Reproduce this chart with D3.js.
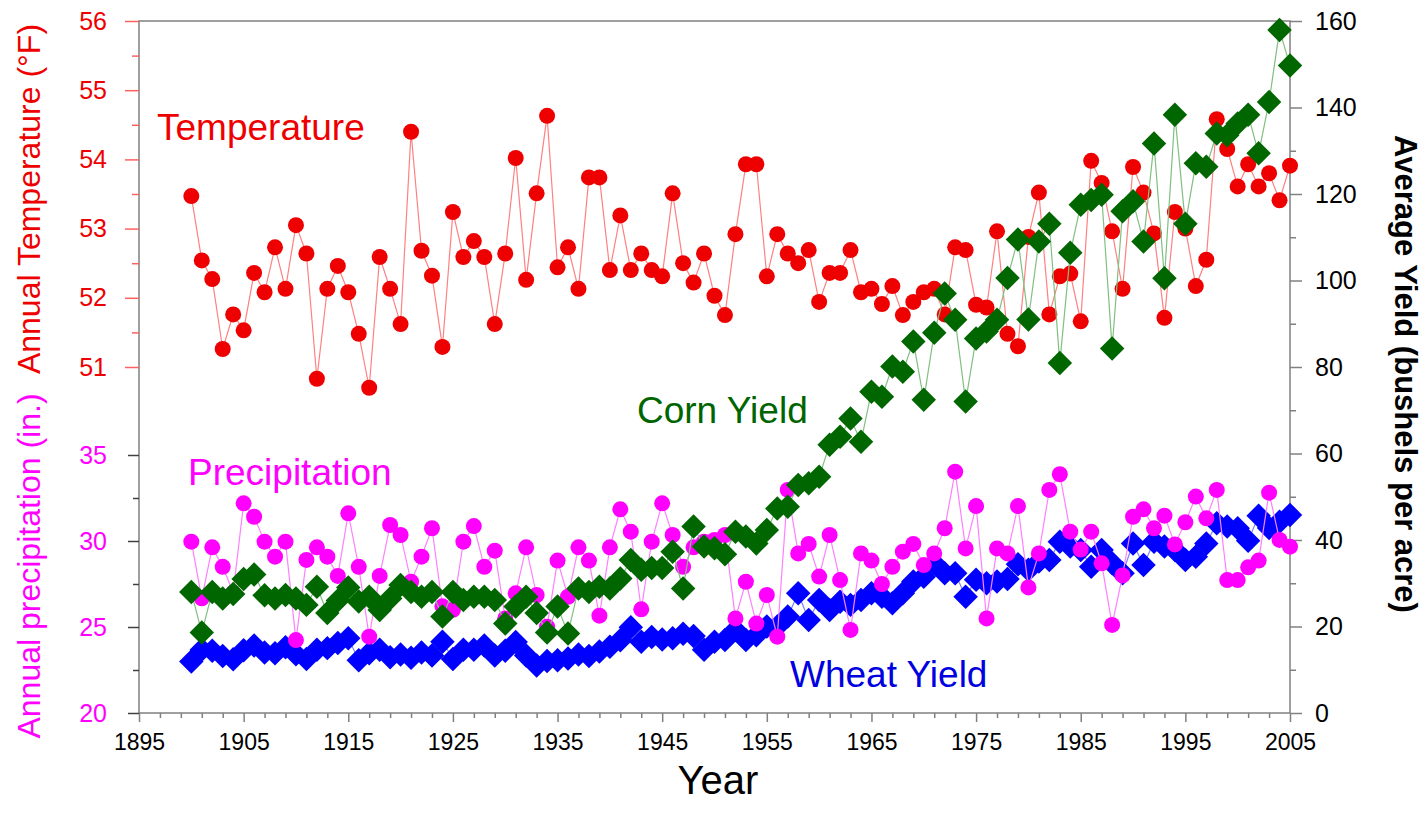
<!DOCTYPE html>
<html>
<head>
<meta charset="utf-8">
<script src="https://cdn.jsdelivr.net/npm/d3@7/dist/d3.min.js"></script>
<style>
  body { margin: 0; background: #fff; }
  svg { font-family: "Liberation Sans", Arial, sans-serif; }
</style>
</head>
<body>
<div id="chart-area"></div>
<script>
// climate vs crop yields, 1900-2005

const years = d3.range(1900, 2006);

// annual temperature (°F)
const temperature = [
  53.47, 52.54, 52.27, 51.26, 51.76, 51.53, 52.36, 52.08, 52.73, 52.13,
  53.05, 52.64, 50.83, 52.13, 52.46, 52.08, 51.48, 50.70, 52.59, 52.13,
  51.62, 54.40, 52.68, 52.32, 51.29, 53.24, 52.59, 52.82, 52.59, 51.62,
  52.64, 54.02, 52.26, 53.51, 54.63, 52.44, 52.73, 52.13, 53.74, 53.74,
  52.40, 53.19, 52.40, 52.64, 52.40, 52.31, 53.51, 52.50, 52.22, 52.64,
  52.03, 51.75, 52.92, 53.93, 53.93, 52.31, 52.92, 52.64, 52.50, 52.69,
  51.94, 52.36, 52.36, 52.69, 52.08, 52.13, 51.91, 52.17, 51.75, 51.94,
  52.08, 52.13, 51.76, 52.73, 52.69, 51.90, 51.86, 52.96, 51.48, 51.30,
  52.88, 53.52, 51.76, 52.31, 52.35, 51.66, 53.98, 53.66, 52.96, 52.13,
  53.89, 53.52, 52.93, 51.71, 53.24, 53.00, 52.17, 52.55, 54.58, 54.15,
  53.61, 53.93, 53.61, 53.80, 53.41, 53.91
];

// annual precipitation (in.)
const precipitation = [
  29.96, 26.67, 29.63, 28.50, 27.00, 32.19, 31.41, 29.96, 29.09, 29.96,
  24.24, 28.90, 29.63, 29.09, 27.97, 31.61, 28.50, 24.44, 27.97, 30.93,
  30.35, 27.63, 29.09, 30.74, 26.20, 26.00, 29.96, 30.87, 28.50, 29.44,
  25.50, 26.96, 29.63, 26.86, 25.02, 28.86, 26.76, 29.63, 28.86, 25.66,
  29.63, 31.84, 30.54, 26.03, 29.96, 32.19, 30.35, 28.50, 29.63, 29.96,
  30.06, 30.35, 25.50, 27.63, 25.20, 26.86, 24.44, 32.97, 29.28, 29.83,
  27.93, 30.35, 27.73, 24.83, 29.28, 28.86, 27.50, 28.50, 29.38, 29.83,
  28.60, 29.28, 30.74, 34.03, 29.57, 32.03, 25.50, 29.57, 29.28, 32.03,
  27.30, 29.28, 32.97, 33.88, 30.54, 29.50, 30.54, 28.70, 25.12, 28.00,
  31.41, 31.84, 30.74, 31.47, 29.80, 31.09, 32.58, 31.32, 32.97, 27.73,
  27.73, 28.47, 28.86, 32.81, 30.06, 29.67
];

// corn yield (bushels per acre)
const cornYield = [
  28.0, 18.6, 28.0, 26.5, 27.5, 31.0, 32.0, 27.2, 26.5, 27.3,
  26.5, 25.0, 29.2, 23.1, 26.0, 29.0, 25.8, 26.9, 23.8, 26.5,
  29.6, 28.0, 26.9, 28.0, 22.3, 28.0, 26.1, 26.9, 26.9, 26.1,
  20.7, 24.6, 26.9, 23.1, 18.6, 24.6, 18.4, 28.8, 28.0, 29.2,
  28.8, 31.1, 35.4, 33.1, 33.5, 33.5, 37.3, 28.8, 43.1, 38.5,
  38.1, 36.7, 41.9, 40.8, 39.2, 42.3, 47.3, 47.7, 52.7, 53.1,
  54.6, 62.0, 63.9, 68.1, 62.7, 74.3, 73.1, 80.1, 78.9, 85.9,
  72.4, 87.9, 97.0, 90.9, 72.0, 86.6, 88.2, 90.9, 100.6, 109.5,
  91.0, 109.0, 113.1, 80.9, 106.4, 117.5, 118.6, 119.8, 84.3, 116.0,
  118.3, 109.0, 131.7, 100.5, 138.3, 113.1, 127.1, 126.3, 134.0, 133.6,
  136.3, 138.3, 129.4, 141.3, 157.9, 149.7
];

// wheat yield (bushels per acre)
const wheatYield = [
  11.9, 14.6, 14.4, 13.2, 12.4, 14.5, 15.6, 14.0, 13.8, 15.2,
  13.6, 12.5, 14.6, 15.0, 16.2, 17.3, 12.2, 13.8, 14.6, 12.9,
  13.5, 12.8, 14.0, 13.3, 16.5, 12.5, 14.6, 14.6, 15.6, 13.3,
  14.4, 16.4, 13.3, 11.0, 12.0, 12.2, 12.6, 13.5, 13.2, 14.2,
  15.3, 16.8, 19.8, 16.5, 17.6, 17.0, 17.3, 18.3, 17.8, 14.6,
  16.5, 16.9, 19.2, 16.9, 18.0, 20.0, 20.0, 22.3, 27.7, 21.5,
  26.1, 23.8, 25.7, 25.0, 26.1, 27.7, 26.9, 25.4, 27.7, 30.4,
  31.5, 34.6, 32.3, 32.3, 26.9, 30.8, 30.0, 30.4, 31.0, 34.4,
  33.1, 35.0, 35.4, 39.6, 38.5, 37.7, 33.8, 37.7, 34.6, 32.3,
  39.2, 34.2, 39.6, 38.5, 37.7, 35.4, 36.1, 39.2, 43.9, 43.1,
  42.7, 39.8, 45.6, 42.8, 44.2, 45.8
];

const yearTicks = d3.range(1895, 2006, 10);
const tempTicks = [51, 52, 53, 54, 55, 56];
const precipTicks = [20, 25, 30, 35];
const yieldTicks = d3.range(0, 161, 20);

const W = 1427, H = 817;
const plot = { left: 139, right: 1290, top: 21, bottom: 713 };

const svg = d3.select("#chart-area")
  .append("svg")
  .attr("width", W)
  .attr("height", H);

// scales
const x = d3.scaleLinear().domain([1895, 2005]).range([plot.left, plot.right]);
const yTemp = d3.scaleLinear().domain([51, 56]).range([367, plot.top]);
const yPrecip = d3.scaleLinear().domain([20, 35]).range([plot.bottom, 455]);
const yYield = d3.scaleLinear().domain([0, 160]).range([plot.bottom, plot.top]);

const RED = "#ee0000", MAGENTA = "#ff00ff", GREEN = "#006600", BLUE = "#0000ff";
const AXIS = "#808080";

// frame
svg.append("rect")
  .attr("x", plot.left).attr("y", plot.top)
  .attr("width", plot.right - plot.left).attr("height", plot.bottom - plot.top)
  .attr("fill", "none").attr("stroke", AXIS).attr("stroke-width", 1.5);

function styleAxis(sel, color, textColor, size) {
  sel.select(".domain").remove();
  sel.selectAll("line").attr("stroke", color).attr("stroke-width", 1.5);
  sel.selectAll("text")
    .attr("fill", textColor)
    .style("font-size", (size || 25) + "px")
    .style("font-family", "\"Liberation Sans\", Arial, sans-serif");
}

// x axis
const xMajor = svg.append("g").attr("transform", `translate(0,${plot.bottom})`)
  .call(d3.axisBottom(x).tickValues(yearTicks).tickFormat(d3.format("d")).tickSize(9).tickPadding(12));
styleAxis(xMajor, AXIS, "#000", 23);
const xMinor = svg.append("g").attr("transform", `translate(0,${plot.bottom})`)
  .call(d3.axisBottom(x).tickValues(d3.range(1897, 2005, 2).filter(v => (v - 1895) % 10 !== 0)).tickFormat("").tickSize(5));
styleAxis(xMinor, AXIS, "#000");

// left: temperature
const tMajor = svg.append("g").attr("transform", `translate(${plot.left},0)`)
  .call(d3.axisLeft(yTemp).tickValues(tempTicks).tickFormat(d3.format("d")).tickSize(14).tickPadding(18));
styleAxis(tMajor, "#ff6060", RED);
const tMinor = svg.append("g").attr("transform", `translate(${plot.left},0)`)
  .call(d3.axisLeft(yTemp).tickValues(tempTicks.slice(0, -1).map(v => v + 0.5)).tickFormat("").tickSize(7));
styleAxis(tMinor, "#ff6060", RED);

// left: precipitation
const pMajor = svg.append("g").attr("transform", `translate(${plot.left},0)`)
  .call(d3.axisLeft(yPrecip).tickValues(precipTicks).tickFormat(d3.format("d")).tickSize(11).tickPadding(21));
styleAxis(pMajor, "#404040", MAGENTA);
const pMinor = svg.append("g").attr("transform", `translate(${plot.left},0)`)
  .call(d3.axisLeft(yPrecip).tickValues(precipTicks.slice(0, -1).map(v => v + 2.5)).tickFormat("").tickSize(6));
styleAxis(pMinor, "#404040", MAGENTA);

// right: yield
const yMajor = svg.append("g").attr("transform", `translate(${plot.right},0)`)
  .call(d3.axisRight(yYield).tickValues(yieldTicks).tickSize(12).tickPadding(13));
styleAxis(yMajor, AXIS, "#000");
const yMinor = svg.append("g").attr("transform", `translate(${plot.right},0)`)
  .call(d3.axisRight(yYield).tickValues(yieldTicks.slice(0, -1).map(v => v + 10)).tickFormat("").tickSize(6));
styleAxis(yMinor, AXIS, "#000");

// axis titles
svg.append("text")
  .attr("transform", `translate(40,199) rotate(-90)`)
  .attr("text-anchor", "middle")
  .attr("fill", RED).style("font-size", "32px")
  .text("Annual Temperature (°F)");
svg.append("text")
  .attr("transform", `translate(40,566) rotate(-90)`)
  .attr("text-anchor", "middle")
  .attr("fill", MAGENTA).style("font-size", "32px")
  .text("Annual precipitation (in.)");
svg.append("text")
  .attr("transform", `translate(1395,374) rotate(90)`)
  .attr("text-anchor", "middle")
  .attr("fill", "#000").style("font-size", "31px").style("font-weight", "bold")
  .text("Average Yield (bushels per acre)");
svg.append("text")
  .attr("x", 718).attr("y", 794)
  .attr("text-anchor", "middle")
  .attr("fill", "#000").style("font-size", "40px")
  .text("Year");

// series
const diamond = d3.symbol().type(d3.symbolSquare).size(300);

function drawSeries(values, yScale, color, lineColor, shape) {
  const pts = years.map((yr, i) => ({ yr, v: values[i] }));
  const g = svg.append("g");
  g.append("path")
    .datum(pts)
    .attr("fill", "none")
    .attr("stroke", lineColor)
    .attr("stroke-width", 1.2)
    .attr("d", d3.line().x(d => x(d.yr)).y(d => yScale(d.v)));
  if (shape === "circle") {
    g.selectAll("circle").data(pts).enter().append("circle")
      .attr("cx", d => x(d.yr))
      .attr("cy", d => yScale(d.v))
      .attr("r", 8)
      .attr("fill", color);
  } else {
    g.selectAll("path.mark").data(pts).enter().append("path")
      .attr("class", "mark")
      .attr("transform", d => `translate(${x(d.yr)},${yScale(d.v)}) rotate(45)`)
      .attr("d", diamond)
      .attr("fill", color);
  }
}

drawSeries(wheatYield, yYield, BLUE, "#8080ff", "diamond");
drawSeries(precipitation, yPrecip, MAGENTA, "#ff80ff", "circle");
drawSeries(temperature, yTemp, RED, "#ff8080", "circle");
drawSeries(cornYield, yYield, GREEN, "#80c080", "diamond");

// series labels
const labels = [
  { text: "Temperature", x: 157, y: 140, color: RED },
  { text: "Precipitation", x: 188, y: 485, color: MAGENTA },
  { text: "Corn Yield", x: 637, y: 423, color: "#006400" },
  { text: "Wheat Yield", x: 790, y: 687, color: "#0000e0" }
];
svg.selectAll("text.series-label").data(labels).enter().append("text")
  .attr("class", "series-label")
  .attr("x", d => d.x).attr("y", d => d.y)
  .attr("fill", d => d.color)
  .style("font-size", "37px")
  .text(d => d.text);
</script>
</body>
</html>
